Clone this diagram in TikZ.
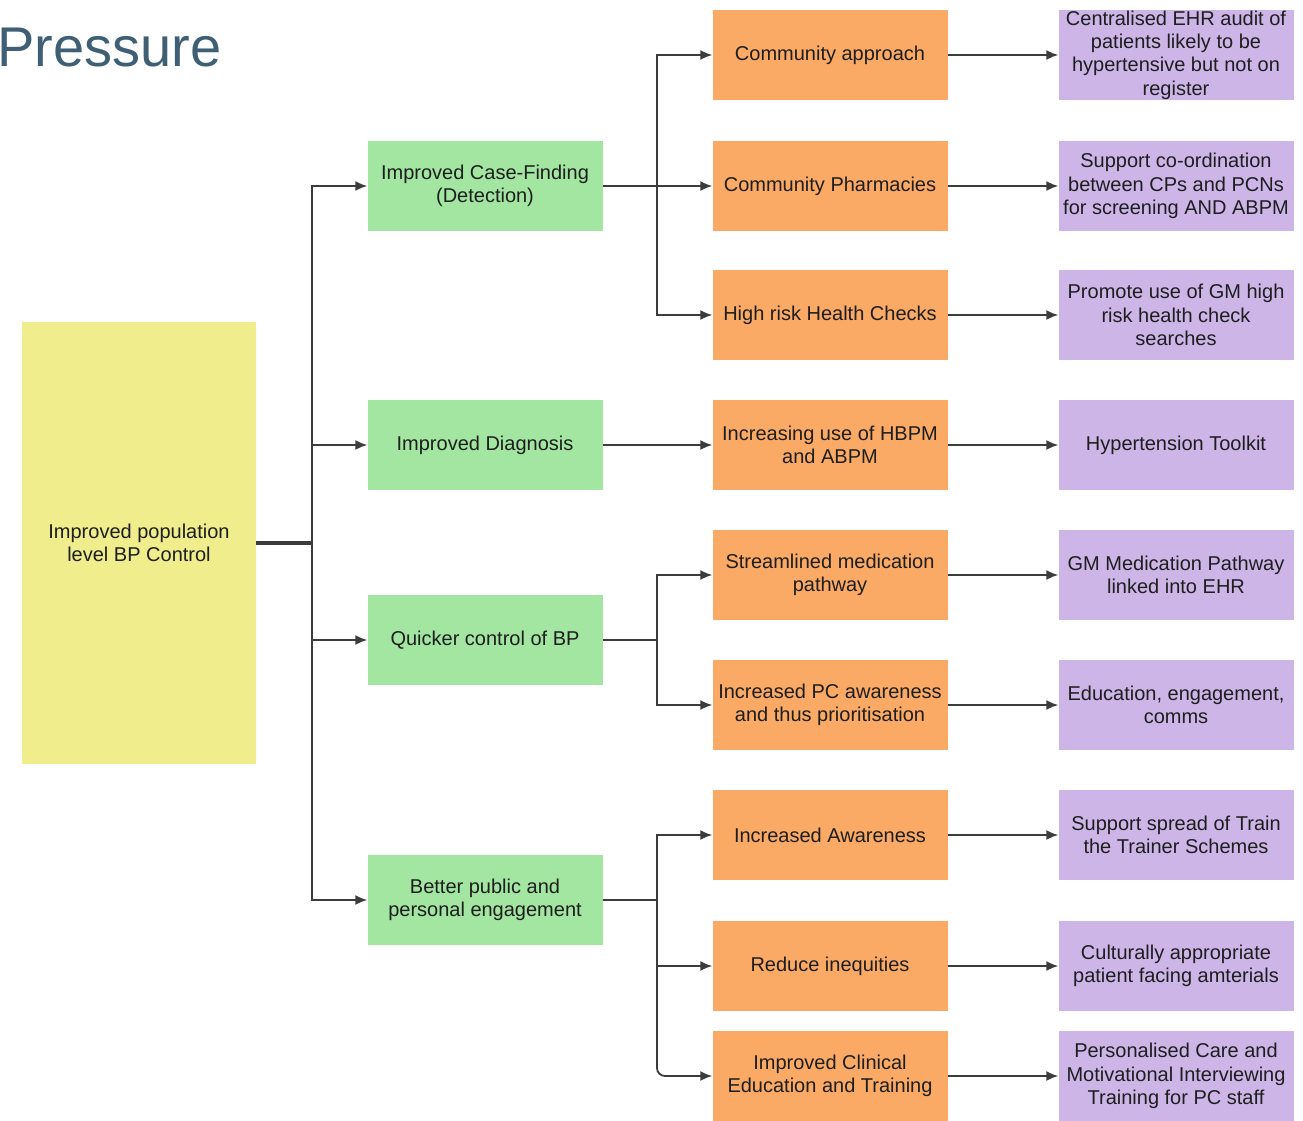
\documentclass[tikz,border=0pt]{standalone}
\usepackage{fontspec}
\setmainfont{Liberation Sans}
\usetikzlibrary{arrows.meta}
\definecolor{ylw}{HTML}{F0EE8C}
\definecolor{grn}{HTML}{A2E6A2}
\definecolor{org}{HTML}{FAAA64}
\definecolor{prp}{HTML}{CDB5E8}
\definecolor{txt}{HTML}{1E1E1E}
\definecolor{lin}{HTML}{3C3C3C}
\definecolor{ttl}{HTML}{3E5F74}
\begin{document}
\begin{tikzpicture}[x=1pt,y=-1pt,
  box/.style={draw=none, minimum width=235pt, minimum height=90pt, inner sep=0pt,
    align=center, text=txt, font=\fontsize{20}{23.3}\selectfont},
  ybox/.style={box, fill=ylw, minimum width=234pt, minimum height=442pt},
  gbox/.style={box, fill=grn},
  obox/.style={box, fill=org},
  pbox/.style={box, fill=prp},
  conn/.style={draw=lin, line width=1.8pt},
  arr/.style={conn, -{Latex[length=12pt,width=10pt]}},
  thickconn/.style={draw=lin, line width=3.2pt}
]
\useasboundingbox (0,0) rectangle (1303,1121);

\node[anchor=base west, inner sep=0pt, text=ttl, font=\fontsize{56}{60}\selectfont] (title) at (-3,67) {Pressure};

% root
\node[ybox] (Y) at (139,543) {Improved population\\level BP Control};

% level 1
\node[gbox] (G1) at (485,186) {Improved Case-Finding\\(Detection)};
\node[gbox] (G2) at (485,445) {Improved Diagnosis};
\node[gbox] (G3) at (485,640) {Quicker control of BP};
\node[gbox] (G4) at (485,900) {Better public and\\personal engagement};

% level 2
\node[obox] (O1) at (830,55) {Community approach};
\node[obox] (O2) at (830,186) {Community Pharmacies};
\node[obox] (O3) at (830,315) {High risk Health Checks};
\node[obox] (O4) at (830,445) {Increasing use of HBPM\\and ABPM};
\node[obox] (O5) at (830,575) {Streamlined medication\\pathway};
\node[obox] (O6) at (830,705) {Increased PC awareness\\and thus prioritisation};
\node[obox] (O7) at (830,835) {Increased Awareness};
\node[obox] (O8) at (830,966) {Reduce inequities};
\node[obox] (O9) at (830,1076) {Improved Clinical\\Education and Training};

% level 3
\node[pbox] (P1) at (1176,55) {Centralised EHR audit of\\patients likely to be\\hypertensive but not on\\register};
\node[pbox] (P2) at (1176,186) {Support co-ordination\\between CPs and PCNs\\for screening AND ABPM};
\node[pbox] (P3) at (1176,315) {Promote use of GM high\\risk health check\\searches};
\node[pbox] (P4) at (1176,445) {Hypertension Toolkit};
\node[pbox] (P5) at (1176,575) {GM Medication Pathway\\linked into EHR};
\node[pbox] (P6) at (1176,705) {Education, engagement,\\comms};
\node[pbox] (P7) at (1176,835) {Support spread of Train\\the Trainer Schemes};
\node[pbox] (P8) at (1176,966) {Culturally appropriate\\patient facing amterials};
\node[pbox] (P9) at (1176,1076) {Personalised Care and\\Motivational Interviewing\\Training for PC staff};

% junctions
\coordinate (j0) at (312,543);
\coordinate (j1) at (657,186);
\coordinate (j3) at (657,640);
\coordinate (j4) at (657,900);

% root to level 1
\draw[thickconn] (Y.east) -- (j0);
\draw[arr] (j0) |- (G1.west);
\draw[arr] (j0) |- (G2.west);
\draw[arr] (j0) |- (G3.west);
\draw[arr] (j0) |- (G4.west);

% level 1 to level 2
\draw[arr] (G1.east) -- (j1) |- (O1.west);
\draw[arr] (j1) -- (O2.west);
\draw[arr] (j1) |- (O3.west);
\draw[arr] (G2.east) -- (O4.west);
\draw[arr] (G3.east) -- (j3) |- (O5.west);
\draw[arr] (j3) |- (O6.west);
\draw[arr] (G4.east) -- (j4) |- (O7.west);
\draw[arr] (j4) |- (O8.west);
\draw[arr, rounded corners=8pt] (j4) |- (O9.west);

% level 2 to level 3
\draw[arr] (O1.east) -- (P1.west);
\draw[arr] (O2.east) -- (P2.west);
\draw[arr] (O3.east) -- (P3.west);
\draw[arr] (O4.east) -- (P4.west);
\draw[arr] (O5.east) -- (P5.west);
\draw[arr] (O6.east) -- (P6.west);
\draw[arr] (O7.east) -- (P7.west);
\draw[arr] (O8.east) -- (P8.west);
\draw[arr] (O9.east) -- (P9.west);
\end{tikzpicture}
\end{document}
